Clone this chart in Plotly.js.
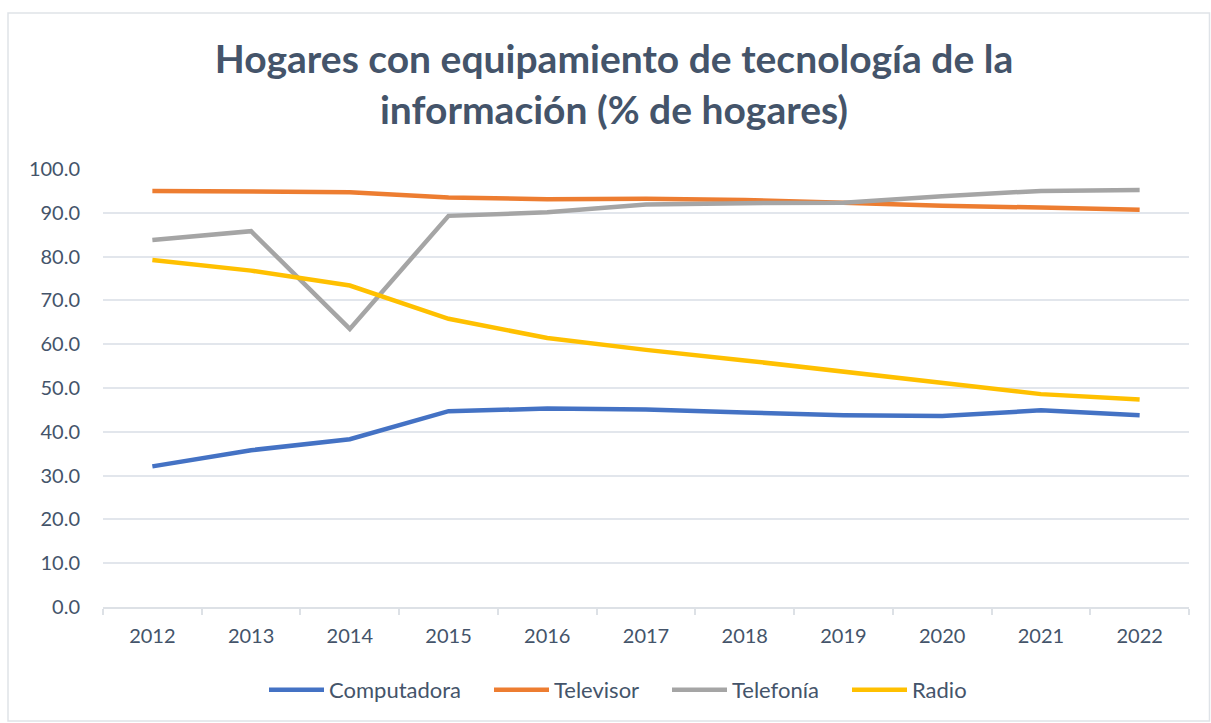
<!DOCTYPE html>
<html>
<head>
<meta charset="utf-8">
<script src="https://cdn.plot.ly/plotly-3.0.1.min.js"></script>
<style>
html,body{margin:0;padding:0;background:#fff;}
#chart{width:1211px;height:723px;}
</style>
</head>
<body>
<div id="chart"></div>
<script>
const years = ["2012","2013","2014","2015","2016","2017","2018","2019","2020","2021","2022"];
const computadora = [32.1,35.8,38.3,44.7,45.3,45.1,44.4,43.8,43.6,44.9,43.8];
const televisor   = [95.0,94.8,94.7,93.5,93.1,93.2,92.9,92.3,91.6,91.2,90.7];
const telefonia   = [83.8,85.8,63.5,89.3,90.1,91.9,92.2,92.3,93.8,95.0,95.2];
const radio       = [79.2,76.8,73.4,65.8,61.4,58.7,56.3,53.7,51.3,48.6,47.4];
const seriesNames = ["Computadora","Televisor","Telefonía","Radio"];
const yTicks = [0,10,20,30,40,50,60,70,80,90,100];
const yTickText = yTicks.map(v => v.toFixed(1));

const colors = ["#4472c4","#ed7d31","#a5a5a5","#ffc000"];
const legendIds = ["legend","legend2","legend3","legend4"];
const data = [computadora, televisor, telefonia, radio].map((vals, i) => ({
  type: "scatter", mode: "lines", name: seriesNames[i],
  x: years, y: vals,
  line: {color: colors[i], width: 4.5},
  legend: legendIds[i]
}));

const font = "Lato, 'Open Sans', sans-serif";
const legendStarts = [269, 494, 672, 852];
const layout = {
  width: 1211, height: 723,
  paper_bgcolor: "#fff", plot_bgcolor: "#fff",
  margin: {l: 103, r: 22, t: 169, b: 116},
  font: {family: font, color: "#44546a", size: 20},
  title: {
    text: "<b>Hogares con equipamiento de tecnología de la<br>información (% de hogares)</b>",
    font: {family: font, size: 39, color: "#44546a"},
    x: 0.507, xanchor: "center", xref: "container",
    y: 1 - 73/723, yanchor: "middle", yref: "container"
  },
  xaxis: {
    type: "category", tickson: "boundaries", range: [-0.5, years.length - 0.5],
    ticks: "outside", ticklen: 6, tickcolor: "#dde1e6", tickwidth: 2,
    showline: true, linecolor: "#dde1e6", linewidth: 2,
    showgrid: false, zeroline: false,
    ticklabelstandoff: 10,
    tickfont: {size: 20, color: "#44546a", family: font},
    fixedrange: true
  },
  yaxis: {
    range: [0, 100], tickvals: yTicks, ticktext: yTickText,
    showgrid: true, gridcolor: "#e2e6ec", gridwidth: 2,
    zeroline: false, showline: false, ticks: "",
    ticklabelstandoff: 22,
    tickfont: {size: 20, color: "#44546a", family: font},
    fixedrange: true
  },
  showlegend: true,
  shapes: [{
    type: "rect", xref: "paper", yref: "paper",
    x0: -95/1086, x1: 1209.5/1086 - 103/1086, y0: -114/438, y1: 1 + 156/438,
    line: {color: "#dfe3e8", width: 1.5}, fillcolor: "rgba(0,0,0,0)", layer: "below"
  }]
};
legendIds.forEach((id, i) => {
  layout[id] = {
    orientation: "h", x: (legendStarts[i] - 5) / 1211, xref: "container", xanchor: "left",
    y: 1 - 690/723, yref: "container", yanchor: "middle",
    font: {size: 22, color: "#44546a", family: font},
    itemwidth: 55, bgcolor: "rgba(0,0,0,0)"
  };
});
Plotly.newPlot("chart", data, layout, {displayModeBar: false, staticPlot: true});
</script>
</body>
</html>
